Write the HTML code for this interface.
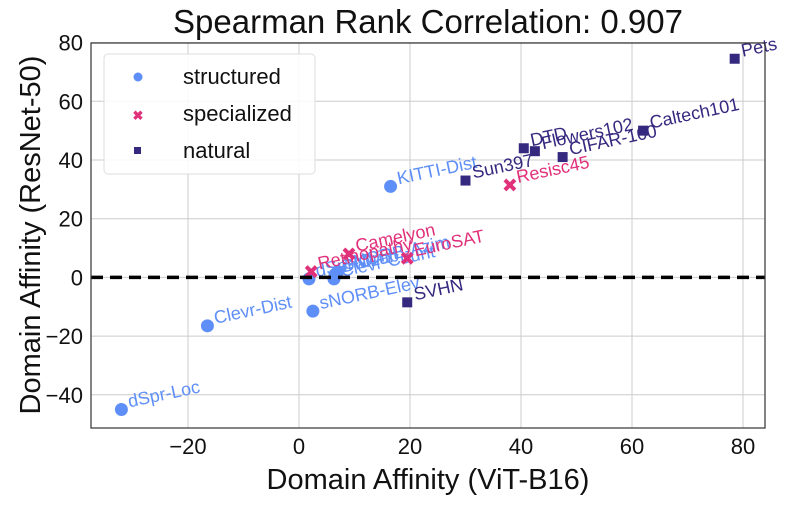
<!DOCTYPE html>
<html><head><meta charset="utf-8">
<style>
html,body{margin:0;padding:0;background:#fff;}
svg text{font-family:"Liberation Sans",sans-serif;}
</style></head>
<body>
<svg id="chart" width="789" height="502" xmlns="http://www.w3.org/2000/svg">
<text x="428" y="33" font-size="33" text-anchor="middle" fill="#111">Spearman Rank Correlation: 0.907</text>
<g id="grid"></g>
<g id="axes"></g>
<g id="marks"></g>
<line x1="91" x2="765" y1="277.4" y2="277.4" stroke="#000" stroke-width="3.5" stroke-dasharray="12,7"/>
<rect x="91" y="43" width="674" height="385" fill="none" stroke="#333" stroke-width="1.2"/>
<text x="428" y="489" font-size="29" text-anchor="middle" fill="#111">Domain Affinity (ViT-B16)</text>
<text transform="translate(40,235) rotate(-90)" font-size="29" text-anchor="middle" fill="#111">Domain Affinity (ResNet-50)</text>
<g>
<rect x="104" y="54" width="211" height="120" rx="4" fill="#fff" fill-opacity="0.85" stroke="#ddd"/>
<circle cx="138" cy="77" r="4.5" fill="#5e8ef7"/>
<text x="183" y="84" font-size="22" fill="#111">structured</text>
<text x="138" y="120" font-size="13" font-weight="bold" text-anchor="middle" fill="#e0307a">✖</text>
<text x="183" y="121" font-size="22" fill="#111">specialized</text>
<rect x="134" y="147" width="7" height="7" fill="#35287f"/>
<text x="183" y="158" font-size="22" fill="#111">natural</text>
</g>
</svg>
<script>
const xTicks=[-20,0,20,40,60,80];
const yTicks=[-40,-20,0,20,40,60,80];
const names=["dSpr-Loc","Clevr-Dist","sNORB-Elev","KITTI-Dist","dSpr-Ori","Clevr-Count","sNORB-Azim","DMLab","Retinopathy","Camelyon","EuroSAT","Resisc45","SVHN","Sun397","DTD","Flowers102","CIFAR-100","Caltech101","Pets"];
const groups=["structured","structured","structured","structured","structured","structured","structured","structured","specialized","specialized","specialized","specialized","natural","natural","natural","natural","natural","natural","natural"];
const vitValues=[-32,-16.5,2.5,16.5,1.8,6.3,7,6.5,2.2,9,19.5,38,19.5,30,40.5,42.5,47.5,62,78.5];
const resnetValues=[-45,-16.5,-11.5,31,-0.5,-0.5,2,1,2,8,6.5,31.5,-8.5,33,44,43,41,50,74.5];
const NS="http://www.w3.org/2000/svg";
const X=v=>299+v*5.55, Y=v=>277.4-v*2.935;
const colors={structured:"#5e8ef7",specialized:"#e0307a",natural:"#35287f"};
const grid=document.getElementById('grid'),axes=document.getElementById('axes'),marks=document.getElementById('marks');
function mk(tag,attrs,parent){const e=document.createElementNS(NS,tag);for(const k in attrs)e.setAttribute(k,attrs[k]);parent.appendChild(e);return e;}
xTicks.forEach(t=>{
 const l=mk('line',{x1:X(t),x2:X(t),y1:43,y2:428,stroke:'#ccc','stroke-width':1},grid);
 
 
 const tx=mk('text',{x:X(t),y:454,'font-size':22,'text-anchor':'middle',fill:'#111'},axes);
 tx.textContent=(t<0?'−':'')+Math.abs(t);
 
 
});
yTicks.forEach(t=>{
 const l=mk('line',{x1:91,x2:765,y1:Y(t),y2:Y(t),stroke:'#ccc','stroke-width':1},grid);
 
 
 const tx=mk('text',{x:83,y:Y(t)+8,'font-size':22,'text-anchor':'end',fill:'#111'},axes);
 tx.textContent=(t<0?'−':'')+Math.abs(t);
 
 
});
names.forEach((n,i)=>{
 const x=X(vitValues[i]),y=Y(resnetValues[i]),g=groups[i],c=colors[g];
 let m;
 if(g==='structured') m=mk('circle',{cx:x,cy:y,r:6.5,fill:c},marks);
 else if(g==='natural') m=mk('rect',{x:x-5,y:y-5,width:10,height:10,fill:c},marks);
 else{ m=mk('path',{d:`M${x-5},${y-5}L${x+5},${y+5}M${x+5},${y-5}L${x-5},${y+5}`,stroke:c,'stroke-width':4},marks);}
 
 
 const tx=mk('text',{x:x+8,y:y-2,'font-size':18,fill:c,transform:`rotate(-12 ${x+8} ${y-2})`},marks);
 tx.textContent=n;
 
 
});
</script>
</body></html>
